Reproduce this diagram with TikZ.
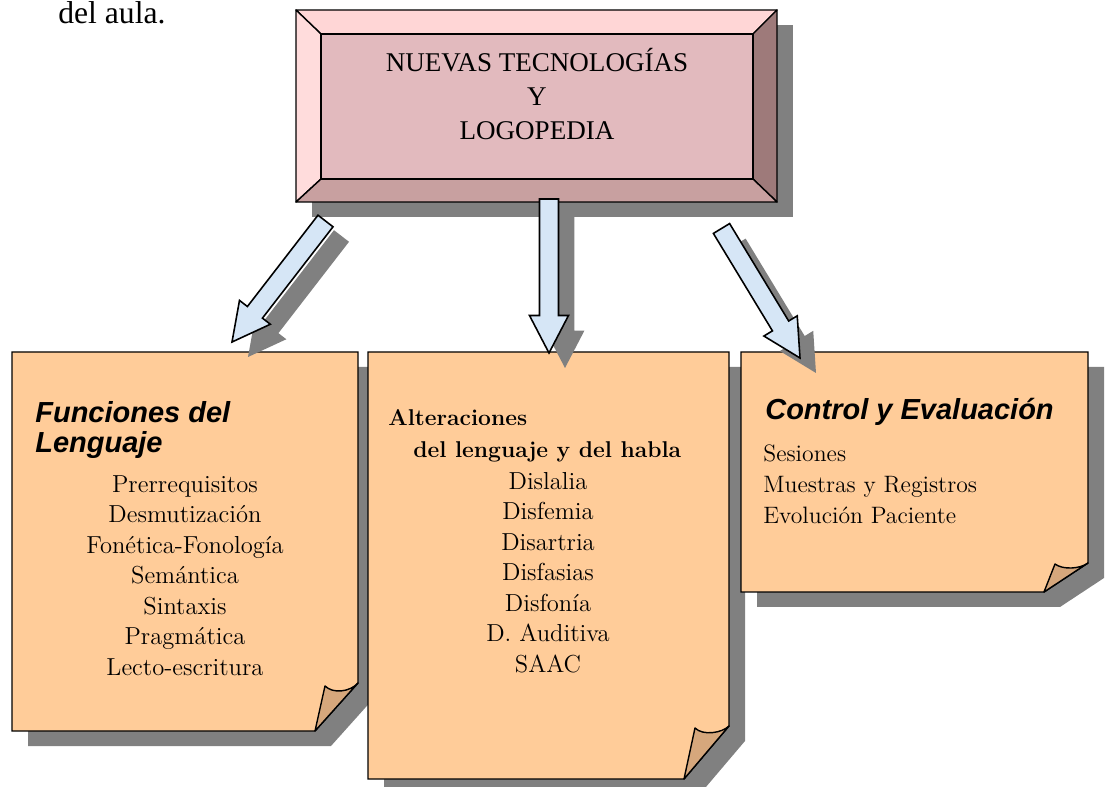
\documentclass[tikz,border=0pt]{standalone}
\usepackage{fontspec}
\usetikzlibrary{calc}
\newfontfamily\headfont{Liberation Sans}
\newfontfamily\titlefont{Liberation Serif}
\definecolor{notefill}{RGB}{255,204,153}
\definecolor{curlfill}{RGB}{214,167,124}
\definecolor{shadowgray}{RGB}{128,128,128}
\definecolor{arrowblue}{RGB}{214,230,246}
\definecolor{bevtop}{RGB}{255,214,214}
\definecolor{bevleft}{RGB}{255,220,220}
\definecolor{bevright}{RGB}{158,122,122}
\definecolor{bevbottom}{RGB}{200,160,160}
\definecolor{pinkface}{RGB}{226,186,190}
\newcommand{\blockarrow}[3][]{%
  \coordinate (ah) at ($(#3)!0.75cm!(#2)$);
  \path[#1] ($(#2)!0.19cm!90:(#3)$) -- ($(ah)!0.19cm!90:(#3)$) -- ($(ah)!0.39cm!90:(#3)$) -- (#3)
    -- ($(ah)!0.39cm!-90:(#3)$) -- ($(ah)!0.19cm!-90:(#3)$) -- ($(#2)!0.19cm!-90:(#3)$) -- cycle;}
\begin{document}
\begin{tikzpicture}[x=0.02cm, y=-0.02cm,
    grayshadow/.style={fill=shadowgray},
    paper/.style={draw=black, fill=notefill, line width=0.8pt},
    curl/.style={draw=black, fill=curlfill, line width=0.8pt, line join=round},
    bevel/.style={draw=black, line width=0.8pt, line join=round},
    bluearrow/.style={draw=black, fill=arrowblue, line width=0.9pt},
    titletext/.style={font=\titlefont\fontsize{15.4}{19.3}\selectfont, align=center, inner sep=0pt},
    listtext/.style={font=\fontsize{14}{17.4}\selectfont, align=center, inner sep=0pt},
    boldtext/.style={font=\bfseries\fontsize{13}{17.4}\selectfont, inner sep=0pt},
    headtext/.style={font=\headfont\bfseries\itshape\fontsize{16.5}{17}\selectfont, align=left, inner sep=0pt}]
  \useasboundingbox (0,0) rectangle (1107,787);

  \node[font=\titlefont\fontsize{18}{20}\selectfont, anchor=base west, inner sep=0pt] (aula) at (58,24) {del aula.};

  \fill[grayshadow] (312,25) rectangle (793,217);
  \filldraw[bevel, fill=bevtop] (296,10) -- (777,10) -- (753,34) -- (321,34) -- cycle;
  \filldraw[bevel, fill=bevleft] (296,10) -- (321,34) -- (321,179) -- (296,202) -- cycle;
  \filldraw[bevel, fill=bevright] (777,10) -- (777,202) -- (753,179) -- (753,34) -- cycle;
  \filldraw[bevel, fill=bevbottom] (296,202) -- (777,202) -- (753,179) -- (321,179) -- cycle;
  \filldraw[bevel, fill=pinkface] (321,34) rectangle (753,179);
  \node[titletext] (title) at (537,94) {NUEVAS TECNOLOGÍAS\\Y\\LOGOPEDIA};

  \fill[grayshadow, shift={(16,15)}] (12,352) -- (358,352) -- (358,683) -- (315,731) -- (12,731) -- cycle;
  \draw[paper] (12,352) -- (358,352) -- (358,683) -- (315,731) -- (12,731) -- cycle;
  \draw[curl] (315,731) -- (325,686) .. controls (333,694) and (350,692) .. (358,683) -- cycle;

  \fill[grayshadow, shift={(16,15)}] (368,352) -- (729,352) -- (729,726) -- (684,779) -- (368,779) -- cycle;
  \draw[paper] (368,352) -- (729,352) -- (729,726) -- (684,779) -- (368,779) -- cycle;
  \draw[curl] (684,779) -- (695,728) .. controls (703,736) and (722,733) .. (729,726) -- cycle;

  \fill[grayshadow, shift={(16,15)}] (741,352) -- (1088,352) -- (1088,563) -- (1044,592) -- (741,592) -- cycle;
  \draw[paper] (741,352) -- (1088,352) -- (1088,563) -- (1044,592) -- (741,592) -- cycle;
  \draw[curl] (1044,592) -- (1055,564) .. controls (1063,570) and (1080,569) .. (1088,563) -- cycle;

  \node[headtext, anchor=west] (funciones) at (35,430) {Funciones del\\Lenguaje};
  \node[listtext] (funclist) at (185,575.5) {Prerrequisitos\\Desmutización\\Fonética-Fonología\\Semántica\\Sintaxis\\Pragmática\\Lecto-escritura};

  \node[boldtext, anchor=west] (alter) at (388,418) {Alteraciones};
  \node[boldtext, anchor=west] (habla) at (413,452) {del lenguaje y del habla};
  \node[listtext] (alterlist) at (548,572.5) {Dislalia\\Disfemia\\Disartria\\Disfasias\\Disfonía\\D. Auditiva\\SAAC};

  \node[headtext, anchor=west] (control) at (765,412) {Control y Evaluación};
  \node[listtext, font=\fontsize{13.5}{17.6}\selectfont, align=left, anchor=west] (controllist) at (763,484) {Sesiones\\Muestras y Registros\\Evolución Paciente};

  \coordinate (tailL) at (325.5,221);
  \coordinate (tipL) at (232,342);
  \coordinate (tailM) at (549,199);
  \coordinate (tipM) at (549,353);
  \coordinate (tailR) at (721.5,228.5);
  \coordinate (tipR) at (800,358);

  \begin{scope}[transform canvas={shift={(0.32cm,-0.30cm)}}]
    \blockarrow[grayshadow]{tailL}{tipL}
    \blockarrow[grayshadow]{tailM}{tipM}
    \blockarrow[grayshadow]{tailR}{tipR}
  \end{scope}
  \blockarrow[bluearrow]{tailL}{tipL}
  \blockarrow[bluearrow]{tailM}{tipM}
  \blockarrow[bluearrow]{tailR}{tipR}
\end{tikzpicture}
\end{document}
